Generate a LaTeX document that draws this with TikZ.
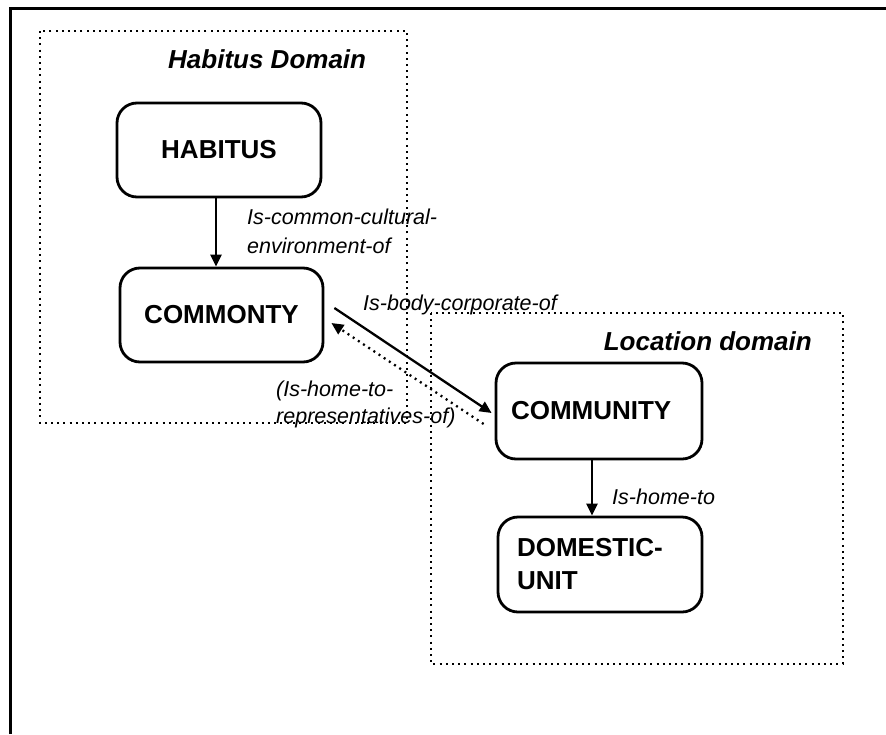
\documentclass[tikz,border=0pt]{standalone}
\usepackage{fontspec}
\setmainfont{Liberation Sans}
\usetikzlibrary{arrows.meta,calc}

\begin{document}
\begin{tikzpicture}[x=1pt,y=-1pt,
  conceptbox/.style={draw, line width=2.8pt, rounded corners=20pt,
    font=\fontsize{26}{33}\selectfont\bfseries, inner sep=0pt},
  domainbox/.style={line width=2.1pt, dash pattern=on 2pt off 4.2pt},
  rel/.style={font=\fontsize{21.5}{27}\selectfont\itshape, inner sep=0pt, align=left},
  domaintitle/.style={font=\fontsize{26}{30}\selectfont\bfseries\itshape, inner sep=0pt},
  link/.style={line width=2.3pt, -{Triangle[length=12pt,width=11pt]}},
]
\useasboundingbox (0,0) rectangle (886,734);

% outer frame (only top and left edges fall inside the page)
\draw[line width=3pt] (10,734) -- (10,8) -- (886,8);

% domains
\draw[domainbox] (40,31) rectangle (407,423);
\draw[domainbox] (431,313) rectangle (843,664);
\node[domaintitle, anchor=base west] (habdomain) at (168,68) {Habitus Domain};
\node[domaintitle, anchor=base east] (locdomain) at (812,350) {Location domain};

% concepts
\node[conceptbox, minimum width=204pt, minimum height=94pt] (hab) at (219,150) {HABITUS};
\node[conceptbox, minimum width=203pt, minimum height=94pt] (com) at (221.5,315) {COMMONTY};
\node[conceptbox, minimum height=96pt, inner xsep=15pt, text width=176pt, align=left]
  (cy) at (599,411) {COMMUNITY};
\node[conceptbox, minimum height=95pt, inner xsep=19pt, text width=166pt, align=left]
  (dom) at (600,564.5) {DOMESTIC-\\UNIT};

% relations
\draw[link] ($(hab.south)+(-3,0)$) -- ($(hab.south |- com.north)+(-3,0)$);
\draw[link] ($(cy.south)+(-7,0)$) -- ($(cy.south |- dom.north)+(-7,0)$);
\draw[link] ($(com.east)+(10,-7)$) -- ($(cy.west)+(-3,2)$);
\draw[link, dash pattern=on 2pt off 4.2pt] ($(cy.west)+(-11,13)$) -- ($(com.east)+(7,8)$);

% relation labels
\node[rel, anchor=north west] (lcommon) at (247,209) {Is-common-cultural-\\[2pt]environment-of};
\node[rel, anchor=base west] (lbody) at (363,310) {Is-body-corporate-of};
\node[rel, anchor=north west] (lrep) at (276,381) {(Is-home-to-\\representatives-of)};
\node[rel, anchor=base west] (lhome) at (612,504) {Is-home-to};
\end{tikzpicture}
\end{document}
